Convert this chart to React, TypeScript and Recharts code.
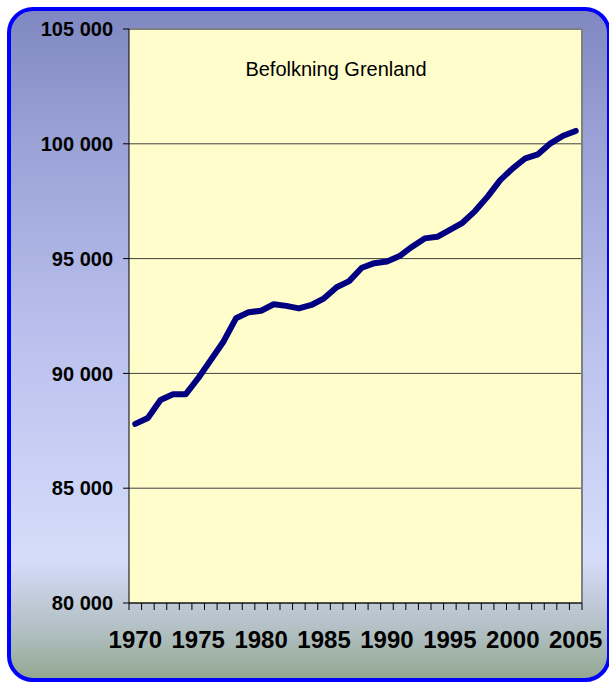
import React from "react";
import { LineChart, Line, XAxis, YAxis, CartesianGrid, ReferenceLine } from "recharts";

const title = "Befolkning Grenland";

const years = [
  1970, 1971, 1972, 1973, 1974, 1975, 1976, 1977, 1978, 1979,
  1980, 1981, 1982, 1983, 1984, 1985, 1986, 1987, 1988, 1989,
  1990, 1991, 1992, 1993, 1994, 1995, 1996, 1997, 1998, 1999,
  2000, 2001, 2002, 2003, 2004, 2005,
];

const population = [
  87800, 88060, 88840, 89090, 89090, 89790, 90580, 91380, 92400, 92660,
  92730, 93010, 92940, 92830, 92980, 93270, 93750, 94020, 94600, 94800,
  94870, 95110, 95520, 95880, 95950, 96250, 96560, 97070, 97700, 98420,
  98930, 99370, 99540, 100020, 100350, 100560,
];

const yearLabels = [1970, 1975, 1980, 1985, 1990, 1995, 2000, 2005];
const yTicks = [80000, 85000, 90000, 95000, 100000, 105000];

const data = years.map((year, i) => ({ year, population: population[i] }));
const xDomain: [number, number] = [years[0] - 0.5, years[years.length - 1] + 0.5];
const boundaryTicks = [...years.map((y) => y - 0.5), years[years.length - 1] + 0.5];

const fmt = (v: number) => String(v).replace(/\B(?=(\d{3})+(?!\d))/g, " ");

const FONT = "'Liberation Sans', Arial, Helvetica, sans-serif";

const EmptyTick = () => <g />;

export default function App() {
  return (
    <div
      style={{
        position: "absolute",
        left: 0,
        top: 0,
        width: 609,
        height: 682,
        overflow: "hidden",
        fontFamily: FONT,
      }}
    >
      <div
        style={{
          position: "absolute",
          left: 7,
          top: 7,
          width: 604,
          height: 675,
          boxSizing: "border-box",
          border: "4px solid #0000ff",
          borderRadius: 26,
          background:
            "linear-gradient(to bottom, #8088c2 0%, #9aa2d6 20%, #b6bdeb 45%, #d5ddfb 82%, #c3ccdc 88%, #adbcbc 94%, #94a892 100%)",
        }}
      />
      <div style={{ position: "absolute", left: 0, top: 0 }}>
        <LineChart
          width={609}
          height={682}
          data={data}
          margin={{ top: 29, right: 27, bottom: 19, left: 9 }}
          style={{ fontFamily: FONT }}
        >
          <CartesianGrid
            vertical={false}
            fill="#FFFDCC"
            fillOpacity={1}
            stroke="#404040"
          />
          <XAxis
            xAxisId="a"
            dataKey="year"
            type="number"
            domain={xDomain}
            ticks={boundaryTicks}
            interval={0}
            tick={EmptyTick}
            tickSize={7}
            height={10}
            axisLine={{ stroke: "#000", strokeWidth: 1 }}
            tickLine={{ stroke: "#000", strokeWidth: 1 }}
          />
          <XAxis
            xAxisId="b"
            dataKey="year"
            type="number"
            domain={xDomain}
            ticks={yearLabels}
            interval={0}
            tickSize={0}
            tickMargin={18}
            axisLine={false}
            tickLine={false}
            height={50}
            tick={{ fill: "#000", fontSize: 24, fontWeight: "bold" }}
          />
          <YAxis
            width={120}
            type="number"
            domain={[80000, 105000]}
            ticks={yTicks}
            interval={0}
            tickSize={6}
            tickMargin={10}
            tickFormatter={fmt}
            axisLine={{ stroke: "#000", strokeWidth: 1 }}
            tickLine={{ stroke: "#000", strokeWidth: 1 }}
            tick={{ fill: "#000", fontSize: 20, fontWeight: "bold" }}
          />
          <ReferenceLine xAxisId="a" y={105000} stroke="#808080" strokeWidth={2} />
          <ReferenceLine xAxisId="a" x={xDomain[1]} stroke="#808080" strokeWidth={2} />
          <Line
            xAxisId="a"
            dataKey="population"
            type="linear"
            stroke="#000080"
            strokeWidth={6}
            strokeLinejoin="round"
            strokeLinecap="round"
            dot={false}
            activeDot={false}
            isAnimationActive={false}
          />
        </LineChart>
      </div>
      <div
        style={{
          position: "absolute",
          left: 236,
          top: 59,
          width: 200,
          textAlign: "center",
          fontSize: 20,
          lineHeight: "20px",
          color: "#000",
          whiteSpace: "nowrap",
        }}
      >
        {title}
      </div>
    </div>
  );
}
